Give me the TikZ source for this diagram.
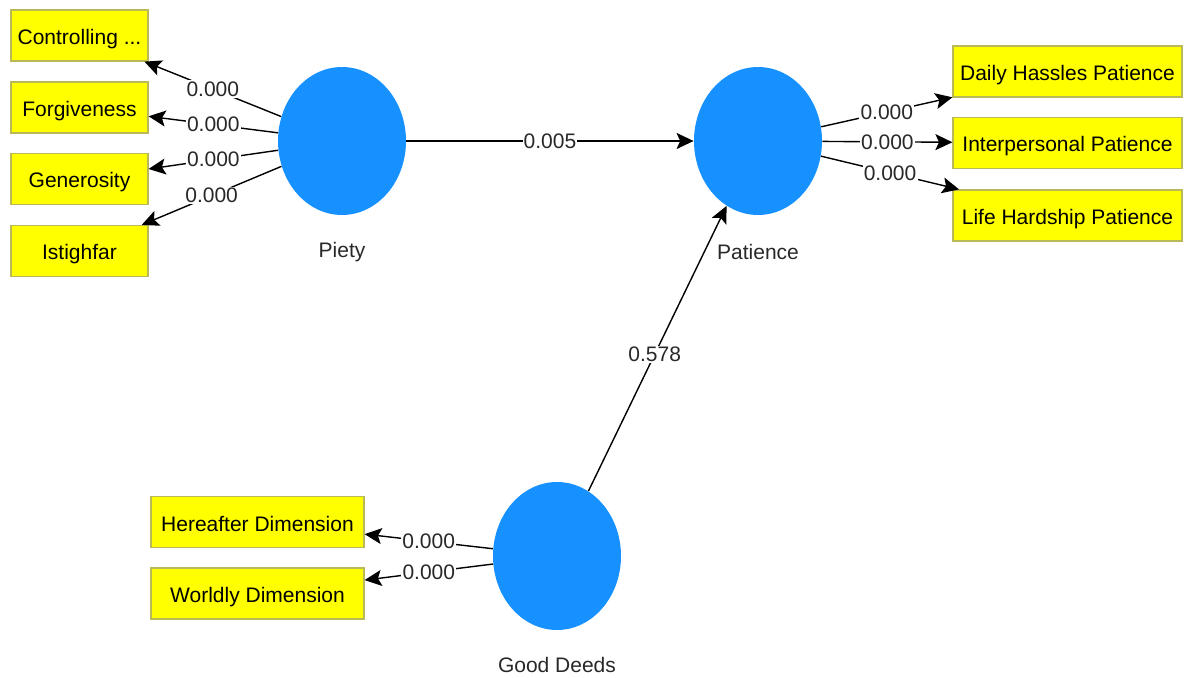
\documentclass[tikz,border=0pt]{standalone}
\usepackage{fontspec}
\setmainfont{Liberation Sans}
\usetikzlibrary{arrows.meta,shapes.geometric}
\definecolor{lvblue}{RGB}{22,145,255}
\definecolor{indfill}{RGB}{255,255,0}
\definecolor{indline}{RGB}{185,185,90}
\definecolor{txt}{RGB}{40,40,40}
\begin{document}
\begin{tikzpicture}[x=0.5pt,y=-0.5pt,
  every node/.style={font=\fontsize{10.5}{12}\selectfont, text=txt},
  lv/.style={ellipse, fill=lvblue, minimum width=64pt, minimum height=74pt, inner sep=0pt},
  ind/.style={draw=indline, fill=indfill, line width=0.6pt, minimum height=25.5pt, inner sep=0pt, text=black, text height=10.5pt, text depth=1.5pt},
  indL/.style={ind, minimum width=68.5pt},
  indR/.style={ind, minimum width=114.5pt},
  indB/.style={ind, minimum width=106.5pt},
  arr/.style={-{Stealth[length=8.5pt,width=8pt,inset=1.8pt]}, line width=0.7pt, black},
  val/.style={fill=white, inner sep=0.6pt}]
\useasboundingbox (0,0) rectangle (1184,678);
% latent variables
\node[lv] (piety) at (342,141) {};
\node[lv] (patience) at (758,141) {};
\node[lv] (deeds) at (557,556) {};
\node (pietyl) at (342,252) {Piety};
\node (patiencel) at (758,252) {Patience};
\node (deedsl) at (557,665) {Good Deeds};
% indicators
\node[indL] (ctrl) at (79.5,35.5) {Controlling ...};
\node[indL] (forg) at (79.5,107.5) {Forgiveness};
\node[indL] (gene) at (79.5,179) {Generosity};
\node[indL] (isti) at (79.5,251) {Istighfar};
\node[indR] (daily) at (1067.5,71.5) {Daily Hassles Patience};
\node[indR] (inter) at (1067.5,143) {Interpersonal Patience};
\node[indR] (life) at (1067.5,215.5) {Life Hardship Patience};
\node[indB] (here) at (257.5,522) {Hereafter Dimension};
\node[indB] (world) at (257.5,593.5) {Worldly Dimension};
% paths
\draw[arr] (piety) -- node[val]{0.000} (ctrl);
\draw[arr] (piety) -- node[val]{0.000} (forg);
\draw[arr] (piety) -- node[val]{0.000} (gene);
\draw[arr] (piety) -- node[val]{0.000} (isti);
\draw[arr] (patience) -- node[val]{0.000} (daily);
\draw[arr] (patience) -- node[val]{0.000} (inter);
\draw[arr] (patience) -- node[val]{0.000} (life);
\draw[arr] (deeds) -- node[val]{0.000} (here);
\draw[arr] (deeds) -- node[val]{0.000} (world);
\draw[arr] (piety) -- node[val]{0.005} (patience);
\draw[arr] (deeds) -- node[val, pos=0.48]{0.578} (patience);
\end{tikzpicture}
\end{document}
